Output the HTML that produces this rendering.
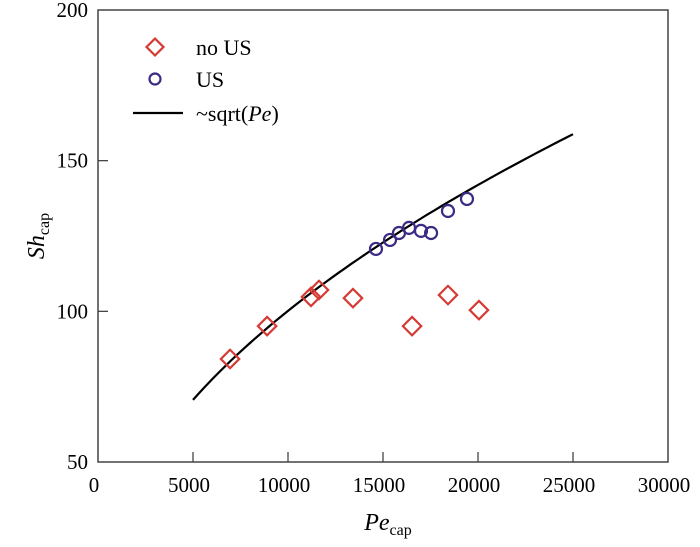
<!DOCTYPE html>
<html><head><meta charset="utf-8"><style>
body{margin:0;background:#fff}
svg{display:block;font-family:"Liberation Serif",serif}
</style></head><body>
<svg id="chart" width="700" height="547">
<rect x="98" y="10" width="570" height="452" fill="none" stroke="#444" stroke-width="1.5"/>
<g id="xticks"></g>
<g id="yticks"></g>
<text x="388" y="530" font-size="24" text-anchor="middle"><tspan font-style="italic">Pe</tspan><tspan font-size="16" dy="5">cap</tspan></text>
<text transform="translate(44,236) rotate(-90)" font-size="24" text-anchor="middle"><tspan font-style="italic">Sh</tspan><tspan font-size="16" dy="5">cap</tspan></text>
<g id="marks"></g>
<g>
<g><rect x="149" y="41" width="12" height="12" transform="rotate(45 155 47)" fill="none" stroke="#d63a35" stroke-width="2.2"/><text x="196" y="55" font-size="22">no US</text></g>
<g><circle cx="155" cy="79" r="5.5" fill="none" stroke="#3c2a85" stroke-width="2.2"/><text x="196" y="87" font-size="22">US</text></g>
<g><line x1="133" y1="113" x2="183" y2="113" stroke="#000" stroke-width="2.2"/><text x="196" y="121" font-size="22">~sqrt(<tspan font-style="italic">Pe</tspan>)</text></g>
</g>
</svg>
<script>
const xTicks=[0,5000,10000,15000,20000,25000,30000];
const yTicks=[50,100,150,200];
const noUsX=[6950,8900,11210,11630,13420,16530,18420,20050];
const noUsY=[84.2,95.1,104.8,107.1,104.4,95.1,105.4,100.4];
const usX=[14630,15370,15840,16370,17000,17530,18420,19420];
const usY=[120.7,123.7,126.0,127.7,126.7,126.0,133.3,137.3];
const fitRange=[5000,25000];
const fitCoef=[1.009,-0.75];
const NS='http://www.w3.org/2000/svg';
const sx=v=>98+v/30000*570;
const sy=v=>462-(v-50)/150*452;
const mk=(t,a,p)=>{const e=document.createElementNS(NS,t);for(const k in a)e.setAttribute(k,a[k]);(p||document.getElementById('marks')).appendChild(e);return e;};
const xg=document.getElementById('xticks'),yg=document.getElementById('yticks');
xTicks.forEach(v=>{const t=mk('text',{x:sx(v)-4,y:492,'font-size':21,'text-anchor':'middle'},xg);t.textContent=v;


if(v>0&&v<30000){const l=mk('line',{x1:sx(v),x2:sx(v),y1:462,y2:452,stroke:'#444','stroke-width':1.3},xg);

}});
yTicks.forEach(v=>{const t=mk('text',{x:88,y:sy(v)+7,'font-size':21,'text-anchor':'end'},yg);t.textContent=v;


if(v>50&&v<200){const l=mk('line',{x1:98,x2:108,y1:sy(v),y2:sy(v),stroke:'#444','stroke-width':1.3},yg);

}});
let d='';for(let i=0;i<=60;i++){const x=fitRange[0]+(fitRange[1]-fitRange[0])*i/60;d+=(i?'L':'M')+sx(x).toFixed(1)+' '+sy(fitCoef[0]*Math.sqrt(x)+fitCoef[1]).toFixed(1);}
const fl=mk('path',{d:d,fill:'none',stroke:'#000','stroke-width':2.2});


noUsX.forEach((x,i)=>{const cx=sx(x),cy=sy(noUsY[i]);const r=mk('rect',{x:cx-6.5,y:cy-6.5,width:13,height:13,transform:`rotate(45 ${cx} ${cy})`,fill:'none',stroke:'#d63a35','stroke-width':2.2});

});
usX.forEach((x,i)=>{const c=mk('circle',{cx:sx(x),cy:sy(usY[i]),r:6,fill:'none',stroke:'#3c2a85','stroke-width':2.2});

});
</script>
</body></html>
